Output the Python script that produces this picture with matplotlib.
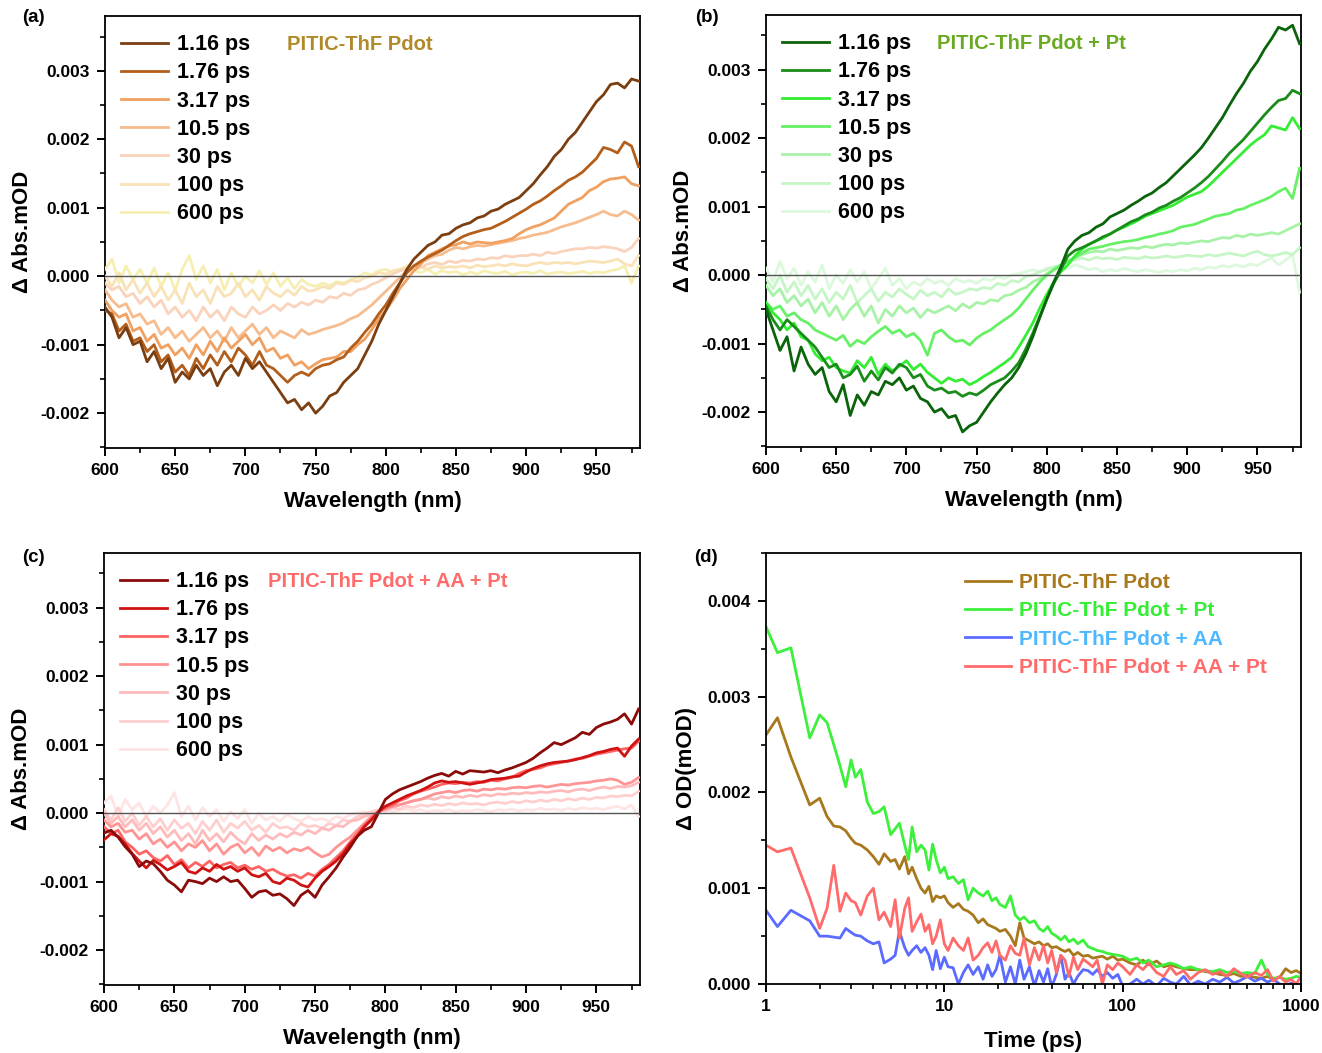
import numpy as np
import matplotlib
matplotlib.use('Agg')
import matplotlib.pyplot as plt
from matplotlib.ticker import MultipleLocator, FormatStrFormatter, LogLocator, NullFormatter

plt.rcParams['font.family'] = ['Liberation Sans', 'DejaVu Sans']
plt.rcParams['font.weight'] = 'bold'

# wavelength grid (nm), values below in units of 1e-3 mOD
wl = np.arange(600, 981, 5)
delays = ['1.16 ps', '1.76 ps', '3.17 ps', '10.5 ps', '30 ps', '100 ps', '600 ps']

# ---- panel (a) PITIC-ThF Pdot ----
a_116 = [-0.45, -0.6, -0.9, -0.75, -1.0, -0.95, -1.25, -1.1, -1.35, -1.2,
         -1.55, -1.4, -1.5, -1.3, -1.45, -1.35, -1.6, -1.4, -1.3, -1.45,
         -1.2, -1.35, -1.25, -1.4, -1.55, -1.7, -1.85, -1.8, -1.95, -1.85,
         -2.0, -1.9, -1.75, -1.7, -1.55, -1.45, -1.35, -1.15, -0.95, -0.7,
         -0.5, -0.3, -0.1, 0.1, 0.25, 0.35, 0.45, 0.5, 0.6, 0.62,
         0.7, 0.75, 0.78, 0.85, 0.88, 0.95, 0.98, 1.05, 1.1, 1.15,
         1.25, 1.35, 1.48, 1.6, 1.75, 1.85, 2.0, 2.1, 2.25, 2.4,
         2.55, 2.65, 2.8, 2.82, 2.75, 2.88, 2.85]
a_176 = [-0.5, -0.55, -0.8, -0.7, -0.95, -0.9, -1.1, -1.0, -1.25, -1.15,
         -1.4, -1.3, -1.45, -1.2, -1.35, -1.15, -1.3, -1.1, -1.25, -1.05,
         -1.15, -1.3, -1.1, -1.3, -1.35, -1.45, -1.55, -1.45, -1.4, -1.45,
         -1.35, -1.3, -1.28, -1.22, -1.18, -1.05, -0.95, -0.82, -0.7, -0.55,
         -0.42, -0.25, -0.1, 0.05, 0.15, 0.22, 0.28, 0.33, 0.38, 0.45,
         0.52, 0.58, 0.62, 0.65, 0.68, 0.7, 0.75, 0.8, 0.86, 0.92,
         0.98, 1.05, 1.1, 1.17, 1.25, 1.32, 1.4, 1.45, 1.52, 1.62,
         1.72, 1.88, 1.85, 1.8, 1.96, 1.9, 1.6]
a_317 = [-0.35, -0.5, -0.6, -0.55, -0.8, -0.75, -0.95, -0.85, -1.05, -1.0,
         -1.15, -1.05, -1.2, -1.0, -1.15, -0.95, -1.1, -0.9, -1.05, -0.95,
         -0.85, -1.0, -0.9, -1.1, -1.05, -1.2, -1.15, -1.3, -1.25, -1.35,
         -1.28, -1.22, -1.2, -1.18, -1.1, -1.1, -1.0, -0.92, -0.78, -0.62,
         -0.5, -0.35, -0.18, -0.05, 0.08, 0.18, 0.3, 0.35, 0.4, 0.44,
         0.46, 0.5, 0.47, 0.5, 0.49, 0.48, 0.5, 0.52, 0.55, 0.62,
         0.68, 0.72, 0.75, 0.8, 0.85, 0.95, 1.05, 1.1, 1.15, 1.25,
         1.3, 1.38, 1.42, 1.43, 1.45, 1.35, 1.32]
a_105 = [-0.2, -0.35, -0.45, -0.4, -0.6, -0.55, -0.7, -0.65, -0.85, -0.75,
         -0.9, -0.8, -0.95, -0.85, -0.75, -0.9, -0.8, -0.95, -0.75, -0.9,
         -0.8, -0.7, -0.85, -0.75, -0.9, -0.8, -0.85, -0.9, -0.78, -0.85,
         -0.82, -0.78, -0.75, -0.72, -0.68, -0.62, -0.58, -0.5, -0.42, -0.32,
         -0.22, -0.12, -0.02, 0.08, 0.15, 0.2, 0.25, 0.3, 0.32, 0.38,
         0.42, 0.4, 0.43, 0.45, 0.44, 0.46, 0.48, 0.5, 0.52, 0.55,
         0.57, 0.6, 0.62, 0.64, 0.68, 0.72, 0.75, 0.78, 0.82, 0.86,
         0.9, 0.95, 0.9, 0.88, 0.95, 0.9, 0.82]
a_30 = [-0.1, -0.2, -0.15, -0.3, -0.25, -0.4, -0.3, -0.45, -0.35, -0.55,
        -0.45, -0.6, -0.5, -0.65, -0.45, -0.6, -0.5, -0.65, -0.45, -0.55,
        -0.6, -0.45, -0.55, -0.5, -0.42, -0.5, -0.4, -0.45, -0.38, -0.42,
        -0.35, -0.38, -0.3, -0.32, -0.25, -0.28, -0.2, -0.18, -0.12, -0.08,
        -0.02, 0.03, 0.08, 0.1, 0.15, 0.13, 0.18, 0.2, 0.17, 0.22,
        0.2, 0.23, 0.22, 0.25, 0.24, 0.27, 0.26, 0.3, 0.28, 0.3,
        0.3, 0.32, 0.3, 0.35, 0.33, 0.36, 0.38, 0.4, 0.4, 0.42,
        0.41, 0.43, 0.42, 0.4, 0.36, 0.42, 0.55]
a_100 = [0.0, -0.15, 0.05, -0.2, -0.05, -0.25, -0.1, -0.3, -0.15, -0.35,
         -0.2, -0.4, -0.1, -0.3, -0.2, -0.4, -0.15, -0.3, -0.25, -0.1,
         -0.3, -0.2, -0.35, -0.15, -0.25, -0.3, -0.2, -0.28, -0.15, -0.22,
         -0.2, -0.15, -0.18, -0.1, -0.12, -0.06, -0.08, -0.02, 0.0, 0.05,
         0.03, 0.08, 0.1, 0.12, 0.08, 0.13, 0.1, 0.15, 0.12, 0.14,
         0.13, 0.15, 0.12, 0.16, 0.14, 0.15, 0.17, 0.15, 0.18, 0.16,
         0.15, 0.18, 0.2, 0.18, 0.2, 0.19, 0.2, 0.18, 0.2, 0.22,
         0.21, 0.2, 0.22, 0.25, 0.18, 0.15, 0.3]
a_600 = [0.1, 0.25, -0.1, 0.15, -0.05, 0.1, -0.1, 0.12, -0.15, 0.05,
         -0.2, 0.1, 0.3, -0.05, 0.15, -0.1, 0.1, -0.2, 0.05, -0.15,
         0.0, -0.1, 0.08, -0.12, 0.05, -0.15, -0.02, -0.18, -0.05, -0.12,
         -0.15, -0.1, -0.14, -0.08, -0.1, -0.05, -0.02, 0.05, 0.02, 0.08,
         0.1, 0.05, 0.1, 0.15, 0.08, 0.05, 0.1, 0.03, 0.08, 0.05,
         0.07, 0.02, 0.06, 0.03, 0.08, 0.05, 0.04, 0.07, 0.02, 0.05,
         0.06, 0.04, 0.08, 0.03, 0.05, 0.06, 0.04, 0.05, 0.07, 0.04,
         0.06, 0.05, 0.08, 0.1, 0.15, -0.1, 0.15]

# ---- panel (b) PITIC-ThF Pdot + Pt ----
b_116 = [-0.5, -0.8, -1.1, -0.9, -1.4, -1.05, -1.3, -1.45, -1.35, -1.7,
         -1.85, -1.6, -2.05, -1.75, -1.9, -1.7, -1.75, -1.55, -1.6, -1.5,
         -1.68, -1.62, -1.8, -1.85, -2.0, -1.95, -2.08, -2.05, -2.29, -2.2,
         -2.15, -2.0, -1.85, -1.72, -1.6, -1.5, -1.35, -1.15, -0.9, -0.62,
         -0.35, -0.1, 0.12, 0.38, 0.5, 0.58, 0.62, 0.7, 0.75, 0.85,
         0.9, 0.95, 1.02, 1.08, 1.15, 1.2, 1.28, 1.35, 1.45, 1.55,
         1.65, 1.75, 1.86, 2.0, 2.15, 2.3, 2.48, 2.65, 2.8, 2.98,
         3.12, 3.3, 3.45, 3.62, 3.58, 3.65, 3.38]
b_176 = [-0.45, -0.65, -0.8, -0.65, -0.75, -0.85, -0.95, -1.05, -1.2, -1.35,
         -1.3, -1.5, -1.45, -1.33, -1.55, -1.4, -1.53, -1.35, -1.43, -1.3,
         -1.35, -1.5, -1.45, -1.62, -1.68, -1.65, -1.72, -1.7, -1.77, -1.72,
         -1.75, -1.68, -1.6, -1.55, -1.5, -1.4, -1.28, -1.08, -0.85, -0.6,
         -0.35, -0.12, 0.08, 0.28, 0.36, 0.4, 0.45, 0.5, 0.56, 0.6,
         0.66, 0.72, 0.78, 0.82, 0.88, 0.92, 0.98, 1.02, 1.08, 1.13,
         1.2, 1.27, 1.35, 1.44, 1.55, 1.66, 1.78, 1.88, 1.98, 2.1,
         2.22, 2.34, 2.45, 2.55, 2.58, 2.7, 2.65]
b_317 = [-0.4, -0.55, -0.65, -0.8, -0.7, -0.9, -0.95, -1.15, -1.25, -1.2,
         -1.35, -1.4, -1.43, -1.25, -1.35, -1.2, -1.45, -1.3, -1.4, -1.33,
         -1.25, -1.38, -1.3, -1.42, -1.5, -1.58, -1.5, -1.55, -1.52, -1.6,
         -1.55, -1.48, -1.42, -1.35, -1.28, -1.2, -1.05, -0.88, -0.7, -0.48,
         -0.28, -0.1, 0.05, 0.15, 0.28, 0.38, 0.45, 0.5, 0.54, 0.6,
         0.66, 0.7, 0.75, 0.8, 0.86, 0.9, 0.94, 0.98, 1.02, 1.08,
         1.14, 1.18, 1.22, 1.3, 1.4, 1.5, 1.6, 1.7, 1.8, 1.9,
         1.98, 2.05, 2.18, 2.15, 2.12, 2.3, 2.14]
b_105 = [-0.4, -0.5, -0.45, -0.6, -0.55, -0.65, -0.7, -0.8, -0.85, -0.9,
         -0.95, -0.88, -1.04, -0.95, -1.0, -0.9, -0.82, -0.75, -0.85, -0.8,
         -0.9, -0.85, -0.95, -1.17, -0.85, -0.8, -0.9, -0.97, -0.95, -1.02,
         -0.92, -0.85, -0.8, -0.72, -0.65, -0.58, -0.48, -0.35, -0.22, -0.1,
         0.0, 0.08, 0.14, 0.2, 0.26, 0.32, 0.38, 0.4, 0.42, 0.45,
         0.47, 0.49, 0.5, 0.52, 0.55, 0.57, 0.6, 0.62, 0.65, 0.7,
         0.72, 0.74, 0.78, 0.82, 0.86, 0.88, 0.9, 0.95, 0.97, 1.02,
         1.06, 1.1, 1.15, 1.22, 1.27, 1.12, 1.56]
b_30 = [-0.15, -0.3, -0.2, -0.4, -0.3, -0.45, -0.35, -0.55, -0.4, -0.6,
        -0.45, -0.65, -0.5, -0.4, -0.6, -0.45, -0.7, -0.5, -0.6, -0.45,
        -0.55, -0.48, -0.62, -0.5, -0.55, -0.5, -0.45, -0.52, -0.42, -0.48,
        -0.4, -0.42, -0.36, -0.38, -0.3, -0.28, -0.22, -0.18, -0.1, -0.05,
        0.02, 0.08, 0.15, 0.2, 0.25, 0.3, 0.33, 0.35, 0.34, 0.38,
        0.36, 0.38, 0.4, 0.39, 0.42, 0.4, 0.43, 0.45, 0.44, 0.47,
        0.46, 0.48, 0.5, 0.49, 0.52, 0.55, 0.54, 0.58, 0.56, 0.6,
        0.58, 0.6, 0.62, 0.6, 0.65, 0.7, 0.75]
b_100 = [-0.05, -0.2, 0.0, -0.25, -0.1, -0.3, -0.15, -0.35, -0.2, -0.4,
         -0.25, -0.35, -0.15, -0.4, -0.3, -0.2, -0.38, -0.25, -0.32, -0.2,
         -0.28, -0.35, -0.22, -0.3, -0.25, -0.32, -0.2, -0.28, -0.25, -0.2,
         -0.22, -0.18, -0.2, -0.12, -0.15, -0.08, -0.1, -0.02, 0.0, 0.05,
         0.08, 0.12, 0.15, 0.2, 0.22, 0.25, 0.22, 0.26, 0.24, 0.25,
         0.23, 0.26, 0.25, 0.24, 0.27, 0.25, 0.26, 0.28, 0.26, 0.27,
         0.29, 0.28, 0.27, 0.3, 0.28, 0.3, 0.32, 0.3, 0.28, 0.32,
         0.35, 0.3, 0.28, 0.3, 0.33, 0.3, 0.4]
b_600 = [0.1, -0.1, 0.2, -0.05, 0.1, -0.15, 0.05, -0.1, 0.15, -0.2,
         0.0, -0.12, 0.08, -0.1, 0.05, -0.2, -0.05, 0.1, -0.15, -0.05,
         -0.2, -0.1, -0.15, -0.05, -0.12, -0.08, -0.15, -0.05, -0.1, -0.08,
         -0.12, -0.05, -0.08, -0.02, -0.05, 0.0, 0.02, 0.05, 0.08, 0.05,
         0.1, 0.12, 0.08, 0.1, 0.15, 0.12, 0.08, 0.1, 0.05, 0.08,
         0.06, 0.1, 0.07, 0.05, 0.08, 0.06, 0.04, 0.07, 0.05, 0.08,
         0.06, 0.1, 0.08, 0.12, 0.1, 0.14, 0.12, 0.15, 0.12, 0.16,
         0.14, 0.2, 0.25, 0.15, 0.22, 0.3, -0.25]

# ---- panel (c) PITIC-ThF Pdot + AA + Pt ----
c_116 = [-0.29, -0.25, -0.35, -0.49, -0.6, -0.78, -0.7, -0.74, -0.85, -0.98,
         -1.05, -1.15, -0.98, -1.0, -1.03, -0.95, -1.0, -0.93, -1.0, -0.98,
         -1.1, -1.23, -1.15, -1.13, -1.2, -1.18, -1.25, -1.35, -1.2, -1.13,
         -1.23, -1.05, -0.93, -0.8, -0.64, -0.5, -0.34, -0.25, -0.2, 0.0,
         0.2, 0.28, 0.34, 0.38, 0.42, 0.46, 0.51, 0.55, 0.58, 0.54,
         0.61, 0.57, 0.62, 0.61, 0.6, 0.62, 0.59, 0.63, 0.66, 0.7,
         0.74, 0.8, 0.88, 0.95, 1.03, 1.0, 1.05, 1.1, 1.18, 1.15,
         1.25, 1.3, 1.33, 1.37, 1.45, 1.3, 1.52]
c_176 = [-0.39, -0.3, -0.34, -0.45, -0.59, -0.7, -0.8, -0.69, -0.75, -0.83,
         -0.78, -0.72, -0.85, -0.88, -0.8, -0.85, -0.75, -0.82, -0.78, -0.85,
         -0.8, -0.9, -0.93, -0.88, -1.0, -1.03, -0.95, -0.98, -1.05, -1.08,
         -0.95, -0.85, -0.78, -0.7, -0.59, -0.45, -0.34, -0.2, -0.1, 0.02,
         0.1, 0.15, 0.2, 0.25, 0.29, 0.33, 0.38, 0.44, 0.47, 0.45,
         0.46, 0.44, 0.42, 0.44, 0.46, 0.49, 0.5, 0.51, 0.53, 0.54,
         0.6, 0.65, 0.69, 0.72, 0.74, 0.75, 0.76, 0.78, 0.81, 0.84,
         0.88, 0.9, 0.93, 0.95, 0.83, 0.98, 1.08]
c_317 = [-0.2, -0.3, -0.25, -0.42, -0.5, -0.6, -0.55, -0.65, -0.7, -0.62,
         -0.75, -0.68, -0.8, -0.72, -0.78, -0.7, -0.8, -0.75, -0.72, -0.8,
         -0.76, -0.82, -0.78, -0.85, -0.82, -0.88, -0.92, -0.9, -0.95, -0.88,
         -0.92, -0.82, -0.75, -0.65, -0.55, -0.42, -0.3, -0.18, -0.08, 0.02,
         0.08, 0.12, 0.18, 0.22, 0.28, 0.32, 0.35, 0.38, 0.42, 0.44,
         0.43, 0.45, 0.44, 0.46, 0.45, 0.48, 0.47, 0.5, 0.52, 0.58,
         0.62, 0.64, 0.66, 0.7, 0.72, 0.74, 0.76, 0.79, 0.8, 0.83,
         0.86, 0.88, 0.9, 0.92, 0.94, 0.95, 1.05]
c_105 = [-0.1, -0.2, -0.15, -0.28, -0.25, -0.38, -0.3, -0.45, -0.38, -0.5,
         -0.42, -0.55, -0.45, -0.5, -0.4, -0.55, -0.45, -0.6, -0.5, -0.45,
         -0.58, -0.5, -0.62, -0.48, -0.55, -0.5, -0.58, -0.52, -0.55, -0.5,
         -0.58, -0.64, -0.6, -0.5, -0.42, -0.35, -0.25, -0.15, -0.05, 0.02,
         0.06, 0.1, 0.12, 0.15, 0.18, 0.2, 0.24, 0.28, 0.3, 0.32,
         0.3, 0.33, 0.34, 0.32, 0.35, 0.34, 0.36, 0.35, 0.37, 0.38,
         0.37, 0.39, 0.4, 0.38, 0.4, 0.42, 0.41, 0.43, 0.44, 0.45,
         0.47, 0.48, 0.5, 0.48, 0.42, 0.45, 0.52]
c_30 = [0.0, -0.15, -0.05, -0.2, -0.1, -0.25, -0.15, -0.3, -0.2, -0.35,
        -0.25, -0.4, -0.3, -0.45, -0.25, -0.4, -0.3, -0.42, -0.28, -0.38,
        -0.45, -0.3, -0.4, -0.32, -0.38, -0.3, -0.35, -0.28, -0.32, -0.25,
        -0.3, -0.22, -0.25, -0.18, -0.2, -0.12, -0.1, -0.05, -0.02, 0.02,
        0.05, 0.08, 0.12, 0.15, 0.18, 0.2, 0.22, 0.2, 0.24, 0.22,
        0.25, 0.23, 0.26, 0.24, 0.27, 0.25, 0.28, 0.27, 0.29, 0.28,
        0.3, 0.29, 0.31, 0.3, 0.32, 0.33, 0.31, 0.34, 0.35, 0.33,
        0.36, 0.38, 0.36, 0.39, 0.38, 0.4, 0.45]
c_100 = [0.05, -0.1, 0.08, -0.12, 0.0, -0.18, -0.05, -0.2, -0.08, -0.25,
         -0.1, -0.22, -0.15, -0.3, -0.12, -0.25, -0.1, -0.28, -0.15, -0.22,
         -0.12, -0.25, -0.18, -0.28, -0.15, -0.22, -0.2, -0.25, -0.15, -0.2,
         -0.18, -0.22, -0.15, -0.18, -0.1, -0.12, -0.05, -0.02, 0.02, 0.05,
         0.03, 0.08, 0.06, 0.1, 0.08, 0.12, 0.1, 0.13, 0.11, 0.14,
         0.12, 0.15, 0.13, 0.14, 0.12, 0.15, 0.16, 0.14, 0.17, 0.15,
         0.18, 0.16, 0.19, 0.17, 0.2, 0.18, 0.21, 0.19, 0.22, 0.2,
         0.23, 0.22, 0.25, 0.24, 0.26, 0.25, 0.32]
c_600 = [0.15, 0.25, -0.05, 0.2, 0.05, 0.15, -0.05, 0.1, 0.0, 0.12,
         0.3, -0.05, 0.1, -0.1, 0.08, -0.05, 0.05, -0.12, 0.02, -0.08,
         0.05, -0.15, 0.0, -0.1, -0.05, -0.12, -0.02, -0.08, -0.12, -0.05,
         -0.1, -0.08, -0.12, -0.05, -0.08, -0.02, 0.0, 0.02, 0.0, 0.03,
         0.05, 0.02, 0.04, 0.06, 0.03, 0.05, 0.02, 0.04, 0.03, 0.05,
         0.02, 0.04, 0.03, 0.05, 0.04, 0.02, 0.05, 0.04, 0.06, 0.03,
         0.05, 0.04, 0.07, 0.05, 0.06, 0.04, 0.07, 0.05, 0.08, 0.06,
         0.07, 0.05, 0.08, 0.1, 0.06, 0.12, -0.05]

# ---- panel (d) kinetics ----
t_ps = [1.0, 1.16, 1.38, 1.76, 2.0, 2.2, 2.4, 2.6, 2.8, 3.0,
        3.17, 3.4, 3.7, 4.0, 4.3, 4.6, 5.0, 5.3, 5.6, 6.0,
        6.3, 6.6, 7.0, 7.4, 7.8, 8.2, 8.6, 9.0, 9.5, 10.0,
        10.5, 11.2, 12.0, 12.8, 13.6, 14.5, 15.5, 16.5, 17.5, 18.5,
        19.5, 20.5, 22, 23.5, 25, 26.5, 28, 30, 32, 34,
        36, 38, 40, 42.5, 45, 47.5, 50, 53, 56, 60,
        64, 68, 72, 77, 82, 88, 94, 100, 110, 120,
        130, 140, 155, 170, 185, 200, 220, 240, 265, 290,
        320, 350, 385, 420, 460, 500, 550, 600, 650, 700,
        760, 820, 880, 940, 1000]
k_pdot = [2.6, 2.78, 2.37, 1.87, 1.94, 1.75, 1.65, 1.64, 1.6, 1.52,
          1.47, 1.45, 1.4, 1.33, 1.25, 1.36, 1.28, 1.3, 1.2, 1.33,
          1.15, 1.22, 1.1, 1.0, 0.95, 1.02, 0.86, 0.92, 0.9, 0.92,
          0.85, 0.8, 0.84, 0.78, 0.76, 0.72, 0.64, 0.68, 0.62, 0.6,
          0.58, 0.55, 0.57, 0.5, 0.4, 0.64, 0.48, 0.45, 0.42, 0.44,
          0.4, 0.42, 0.38, 0.39, 0.36, 0.34, 0.36, 0.3, 0.33, 0.29,
          0.3, 0.27, 0.28, 0.29, 0.26, 0.29, 0.25, 0.26, 0.22, 0.2,
          0.25, 0.2, 0.24, 0.18, 0.2, 0.18, 0.16, 0.15, 0.15, 0.13,
          0.12, 0.1, 0.09, 0.11, 0.08, 0.09, 0.07, 0.06, 0.08, 0.05,
          0.07, 0.16, 0.12, 0.14, 0.11]
k_pt = [3.73, 3.46, 3.51, 2.57, 2.81, 2.73, 2.5, 2.28, 2.06, 2.34,
        2.16, 2.24, 1.9, 1.78, 1.8, 1.85, 1.56, 1.62, 1.68, 1.45,
        1.3, 1.64, 1.38, 1.45, 1.4, 1.19, 1.46, 1.3, 1.16, 1.22,
        1.1, 1.12, 1.05, 1.09, 0.88, 1.0, 0.95, 0.92, 0.97, 0.87,
        0.9, 0.83, 0.8, 0.92, 0.72, 0.67, 0.7, 0.64, 0.66, 0.58,
        0.55, 0.6, 0.53, 0.5, 0.46, 0.5, 0.44, 0.47, 0.42, 0.46,
        0.39, 0.37, 0.35, 0.34, 0.32, 0.31, 0.3, 0.29, 0.25, 0.27,
        0.22, 0.25, 0.18, 0.2, 0.22, 0.2, 0.16, 0.18, 0.15, 0.14,
        0.13, 0.15, 0.12, 0.13, 0.11, 0.12, 0.11, 0.25, 0.1, 0.06,
        0.07, 0.05, 0.06, 0.08, 0.07]
k_aa = [0.77, 0.6, 0.77, 0.66, 0.5, 0.5, 0.49, 0.48, 0.58, 0.54,
        0.51, 0.5, 0.45, 0.42, 0.44, 0.22, 0.26, 0.3, 0.55, 0.38,
        0.3, 0.35, 0.4, 0.33, 0.38, 0.3, 0.15, 0.35, 0.16, 0.28,
        0.18, 0.17, 0.0, 0.12, 0.2, 0.1, 0.18, 0.05, 0.2, 0.08,
        0.15, 0.3, 0.02, 0.18, 0.0, 0.25, 0.05, 0.18, -0.02, 0.14,
        0.02, 0.16, -0.03, 0.1, 0.3, 0.05, 0.12, 0.0, 0.08, 0.15,
        0.14, 0.1, 0.15, 0.08, 0.12, 0.06, 0.1, -0.02, 0.0, 0.05,
        0.0, 0.04, -0.02, 0.06, 0.02, 0.0, 0.08, -0.01, 0.03, 0.0,
        0.05, 0.02, 0.07, 0.01, 0.04, 0.08, 0.03, 0.06, 0.02, 0.05,
        0.0, -0.02, 0.01, -0.03, 0.0]
k_aa_pt = [1.45, 1.38, 1.42, 0.9, 0.58, 0.79, 1.24, 0.76, 0.95, 0.87,
           0.85, 0.72, 0.92, 1.0, 0.67, 0.75, 0.6, 0.88, 0.48, 0.79,
           0.9, 0.55, 0.65, 0.73, 0.55, 0.62, 0.42, 0.5, 0.67, 0.42,
           0.35, 0.48, 0.4, 0.35, 0.48, 0.25, 0.3, 0.38, 0.43, 0.33,
           0.45, 0.3, 0.25, 0.4, 0.32, 0.3, 0.48, 0.2, 0.38, 0.25,
           0.4, 0.22, 0.35, 0.12, 0.3, 0.25, 0.08, 0.28, 0.15, 0.26,
           0.22, 0.18, 0.25, 0.0, 0.2, 0.15, 0.22, 0.18, 0.1, 0.2,
           0.15, 0.22, 0.12, 0.08, 0.18, 0.1, 0.14, 0.05, 0.12, 0.15,
           0.1, 0.13, 0.08, 0.16, 0.11, 0.07, 0.12, 0.09, 0.15, 0.03,
           0.08, 0.02, 0.05, 0.0, 0.08]

panels = [
    dict(series=[a_116, a_176, a_317, a_105, a_30, a_100, a_600],
         colors=['#7A3E10', '#B35E1A', '#F0A060', '#F7BC8E', '#FAD3BC', '#F8E2B6', '#F5EFB2'],
         title='PITIC-ThF Pdot', tcolor='#B08A28', tx=0.34,
         rect=[0.0794, 0.5745, 0.4047, 0.4103], tag='(a)', tagxy=(22, 18)),
    dict(series=[b_116, b_176, b_317, b_105, b_30, b_100, b_600],
         colors=['#0A640A', '#1A8C1A', '#33EE33', '#66F066', '#A8F2A8', '#C6F6C6', '#DDF9DD'],
         title='PITIC-ThF Pdot + Pt', tcolor='#6AAA20', tx=0.32,
         rect=[0.5794, 0.5755, 0.4047, 0.4103], tag='(b)', tagxy=(695, 18)),
    dict(series=[c_116, c_176, c_317, c_105, c_30, c_100, c_600],
         colors=['#8B0A0A', '#D01212', '#FF6464', '#FF9494', '#FFBBBB', '#FFCFCF', '#FFE4E4'],
         title='PITIC-ThF Pdot + AA + Pt', tcolor='#FF6B6B', tx=0.306,
         rect=[0.0787, 0.0646, 0.4054, 0.4103], tag='(c)', tagxy=(22, 558)),
]

fig = plt.figure(figsize=(13.22, 10.53), dpi=100)


def style_axes(ax):
    for s in ax.spines.values():
        s.set_linewidth(1.3)
    ax.tick_params(which='both', direction='out', top=False, right=False, labelsize=12.5)
    ax.tick_params(which='major', length=6, width=1.4, pad=5)
    ax.tick_params(which='minor', length=3.5, width=1.2)


for p in panels:
    ax = fig.add_axes(p['rect'])
    for i, (vals, col, lab) in enumerate(zip(p['series'], p['colors'], delays)):
        ax.plot(wl, np.array(vals) * 1e-3, color=col, lw=2.0, label=lab, zorder=10 - i)
    ax.axhline(0, color='#555555', lw=1.0, zorder=20)
    ax.set_xlim(600, 981)
    ax.set_ylim(-0.00251, 0.0038)
    ax.xaxis.set_major_locator(MultipleLocator(50))
    ax.xaxis.set_minor_locator(MultipleLocator(25))
    ax.yaxis.set_major_locator(MultipleLocator(0.001))
    ax.yaxis.set_minor_locator(MultipleLocator(0.0005))
    ax.yaxis.set_major_formatter(FormatStrFormatter('%.3f'))
    style_axes(ax)
    ax.set_xlabel('Wavelength (nm)', fontsize=16, fontweight='bold')
    ax.set_ylabel('Δ Abs.mOD', fontsize=16, fontweight='bold')
    ax.xaxis.set_label_coords(0.5, -0.1)
    ax.yaxis.set_label_coords(-0.135, 0.5)
    ax.legend(loc='upper left', bbox_to_anchor=(0.03, 0.958), frameon=False,
              fontsize=15.5, handlelength=2.2, handletextpad=0.4,
              labelspacing=0.335, borderaxespad=0, borderpad=0)
    ax.text(p['tx'], 0.935, p['title'], transform=ax.transAxes, color=p['tcolor'],
            fontsize=14.5, fontweight='bold', va='center')
    fig.text(p['tagxy'][0] / 1322, 1 - p['tagxy'][1] / 1053, p['tag'],
             fontsize=13.5, fontweight='bold', va='center')

# panel (d)
axd = fig.add_axes([0.5794, 0.0655, 0.4047, 0.4093])
kin = [k_pdot, k_pt, k_aa, k_aa_pt]
kin_labels = ['PITIC-ThF Pdot', 'PITIC-ThF Pdot + Pt', 'PITIC-ThF Pdot + AA', 'PITIC-ThF Pdot + AA + Pt']
kin_colors = ['#A8781C', '#3CF03C', '#5B6BFF', '#FF6B6B']
kin_text = ['#A8781C', '#33EE33', '#4DB8FF', '#FF6B6B']
for vals, col, lab in zip(kin, kin_colors, kin_labels):
    axd.plot(t_ps, np.array(vals) * 1e-3, color=col, lw=2.0, label=lab)
axd.set_xscale('log')
axd.set_xlim(1, 1000)
axd.set_ylim(0, 0.0045)
axd.set_xticks([1, 10, 100, 1000], ['1', '10', '100', '1000'])
axd.xaxis.set_minor_locator(LogLocator(base=10, subs=range(2, 10)))
axd.xaxis.set_minor_formatter(NullFormatter())
axd.yaxis.set_major_locator(MultipleLocator(0.001))
axd.yaxis.set_minor_locator(MultipleLocator(0.0005))
axd.yaxis.set_major_formatter(FormatStrFormatter('%.3f'))
style_axes(axd)
axd.set_xlabel('Time (ps)', fontsize=16, fontweight='bold')
axd.set_ylabel('Δ OD(mOD)', fontsize=16, fontweight='bold')
axd.xaxis.set_label_coords(0.5, -0.108)
axd.yaxis.set_label_coords(-0.129, 0.5)
leg = axd.legend(loc='upper left', bbox_to_anchor=(0.372, 0.953), frameon=False,
                 fontsize=15, handlelength=2.2, handletextpad=0.4,
                 labelspacing=0.44, borderaxespad=0, borderpad=0)
for txt, c in zip(leg.get_texts(), kin_text):
    txt.set_color(c)
fig.text(694 / 1322, 1 - 558 / 1053, '(d)', fontsize=13.5, fontweight='bold', va='center')

fig.savefig('out.png', dpi=100)
